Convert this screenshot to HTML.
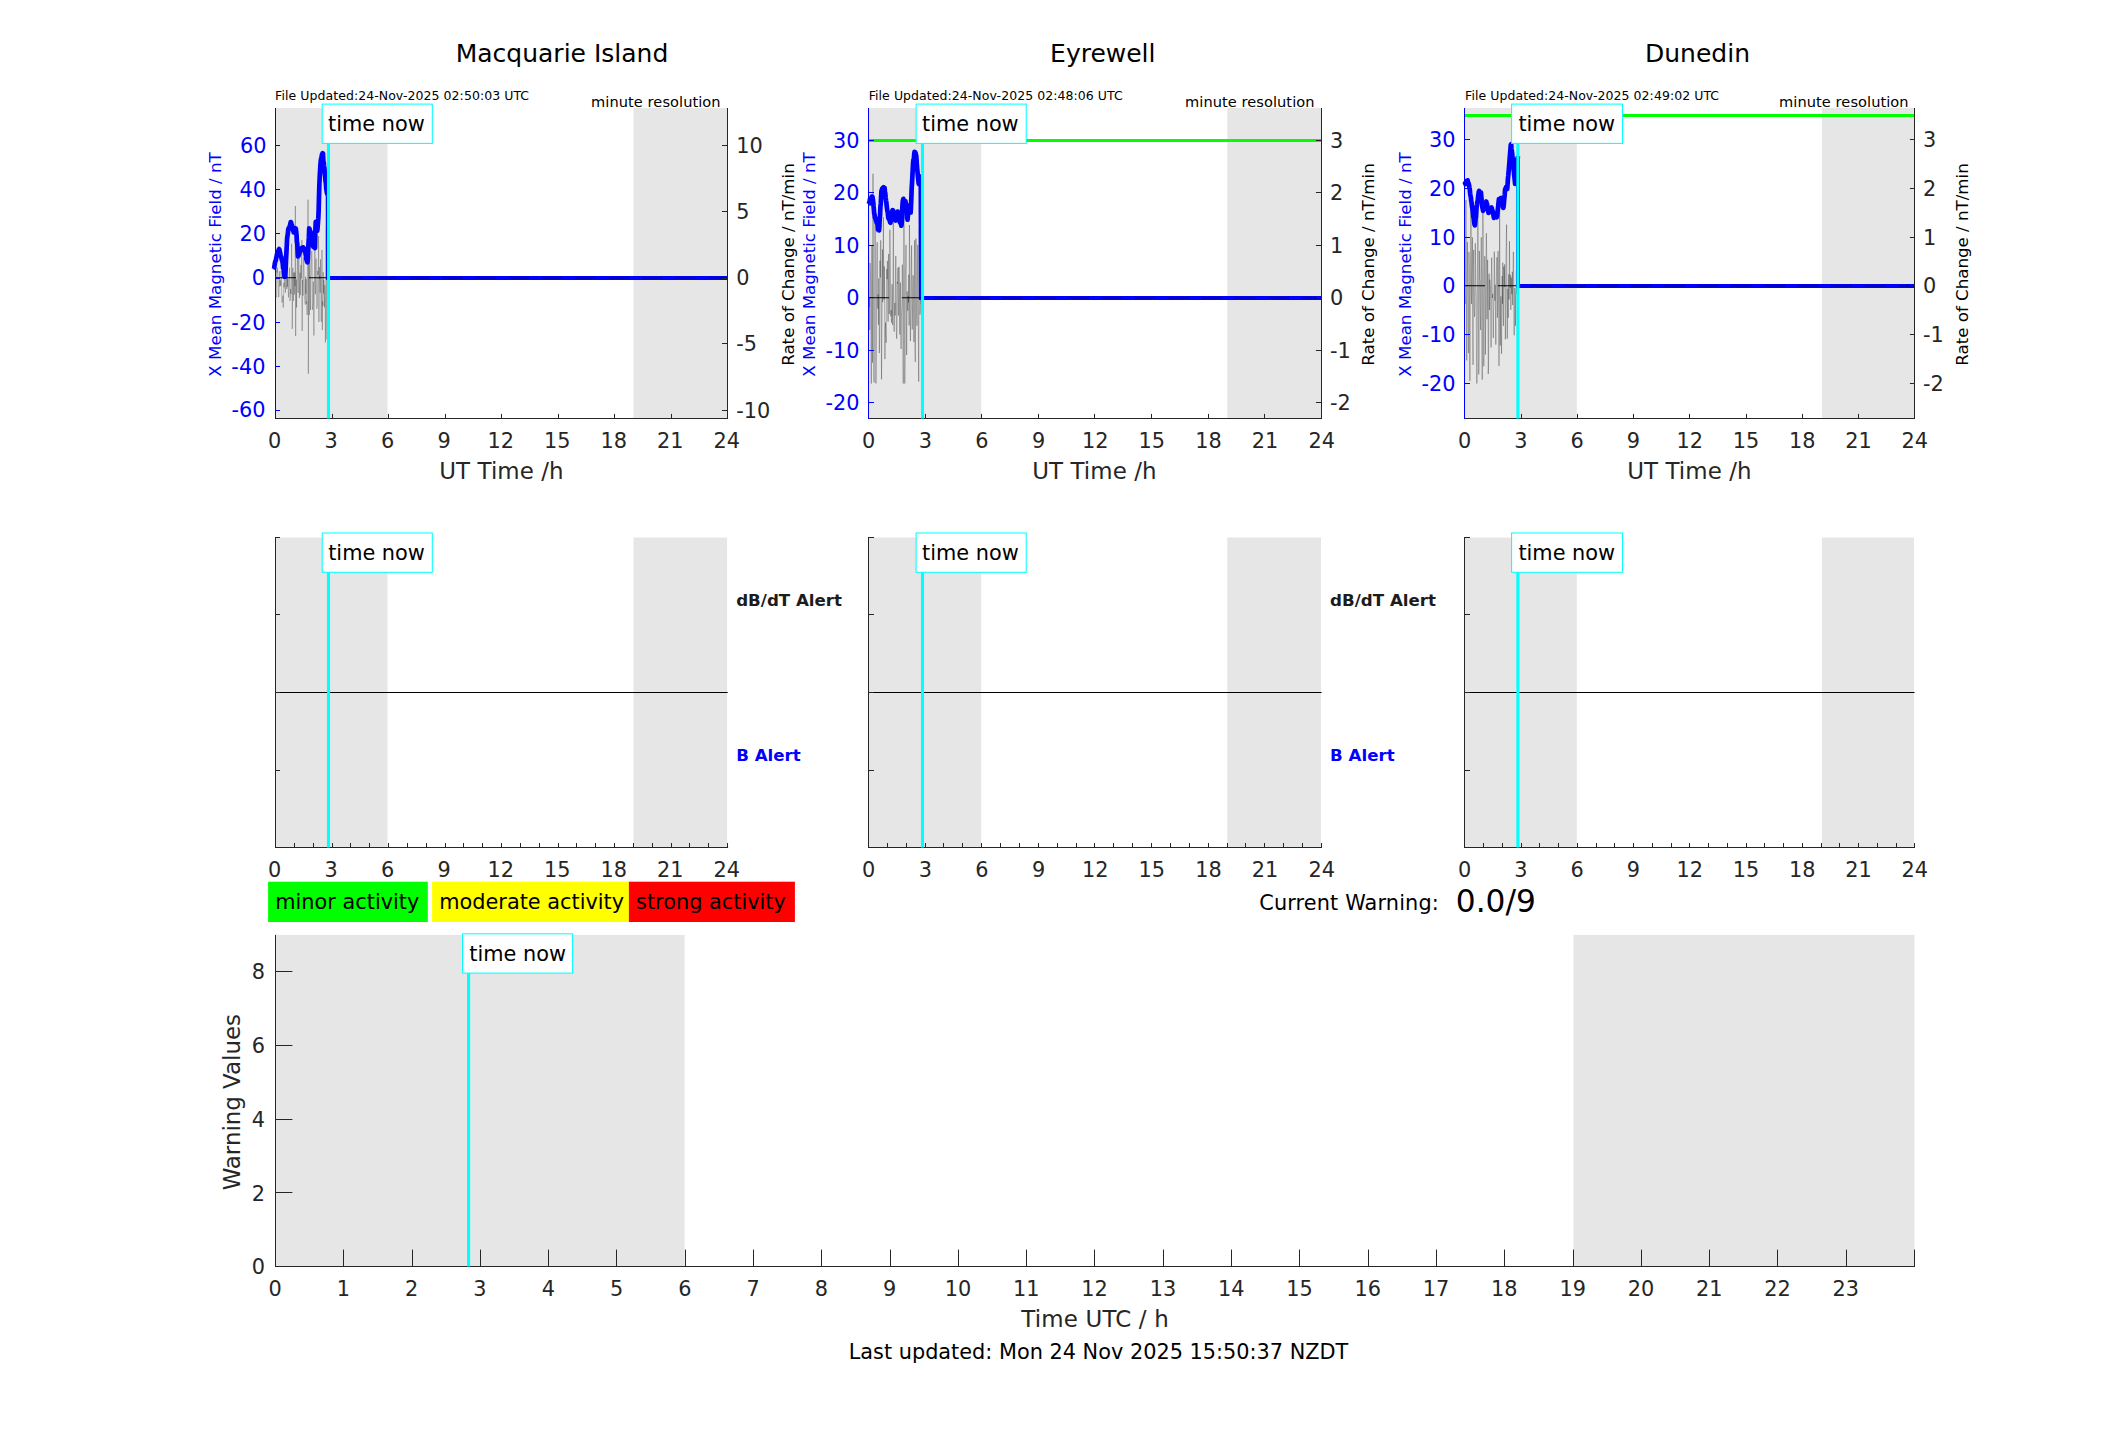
<!DOCTYPE html>
<html lang="en"><head><meta charset="utf-8"><title>Geomagnetic activity monitor</title>
<style>html,body{margin:0;padding:0;background:#fff}svg{display:block}text{font-family:'DejaVu Sans', 'Liberation Sans', sans-serif;white-space:pre}</style></head><body>
<svg width="2117" height="1437" viewBox="0 0 2117 1437">
<rect x="0" y="0" width="2117" height="1437" fill="#fff"/>
<rect x="275.5" y="108" width="112" height="310.5" fill="#e6e6e6"/>
<rect x="633.5" y="108" width="94.1" height="310.5" fill="#e6e6e6"/>
<polyline fill="none" stroke="#000" stroke-opacity="0.55" stroke-width="0.42" stroke-linejoin="round" points="275.5,268.6 275.81,293.08 276.12,297.58 276.43,276.22 276.74,270.19 277.05,272.65 277.36,267.49 277.67,277.42 277.98,282.14 278.29,292.47 278.6,297.1 278.91,296.07 279.22,271.24 279.53,276.35 279.84,286.62 280.15,280.4 280.46,282.53 280.77,285.72 281.08,270.86 281.39,275.32 281.7,295.52 282.01,302.55 282.32,298.82 282.63,298.45 282.94,295.62 283.25,307.61 283.56,296.84 283.87,282.88 284.18,287.35 284.49,274.59 284.8,277.63 285.11,288.84 285.42,292.64 285.73,277.39 286.04,271.53 286.35,269.84 286.66,289.05 286.97,283.68 287.28,276.53 287.59,286.85 287.9,278.82 288.21,289.41 288.52,297.34 288.83,288.69 289.14,274.83 289.45,267.76 289.76,277.35 290.07,301 290.38,292.22 290.69,289.04 291,294.09 291.31,279.13 291.62,243.71 291.93,267.55 292.24,328.92 292.55,299.04 292.86,267.91 293.17,295.81 293.48,300.89 293.79,272.68 294.1,280.12 294.41,294.51 294.72,272.3 295.03,286.09 295.34,206 295.65,336 295.96,293.59 296.27,279.55 296.58,307.6 296.89,278.36 297.2,269.57 297.51,249.92 297.82,282.44 298.13,292.9 298.44,275.65 298.75,251.08 299.06,272.78 299.37,297.99 299.68,284.03 299.99,272.74 300.3,295.14 300.61,272.63 300.92,265.06 301.23,278.59 301.54,259.47 301.86,240 302.17,331 302.48,279.96 302.79,286.76 303.1,295.66 303.41,272.29 303.72,257.34 304.03,268.74 304.34,285.91 304.65,289.38 304.96,302.16 305.27,304.73 305.58,276.65 305.89,293.85 306.2,279.1 306.51,303.6 306.82,301.53 307.13,314.88 307.44,271.81 307.75,236.47 308.06,199.7 308.37,373.7 308.68,259.07 308.99,264.13 309.3,314.97 309.61,256.32 309.92,240.22 310.23,278.04 310.54,309.92 310.85,275.81 311.16,275.03 311.47,257.3 311.78,250.89 312.09,258.62 312.4,309.74 312.71,306.2 313.02,304 313.33,281.63 313.64,319.1 313.95,335.56 314.26,303.47 314.57,265.73 314.88,237.54 315.19,286.59 315.5,294.21 315.81,266.21 316.12,258.54 316.43,282.13 316.74,308.81 317.05,307.69 317.36,304.14 317.67,271.02 317.98,274.92 318.29,264.48 318.6,236 318.91,322 319.22,267.07 319.53,278.71 319.84,275.98 320.15,292.87 320.46,259.32 320.77,283.28 321.08,319.53 321.39,321.85 321.7,279.53 322.01,250 322.32,330 322.63,301.28 322.94,305.92 323.25,272.16 323.56,293.45 323.87,280.04 324.18,295.49 324.49,307.51 324.8,285.1 325.11,298.72 325.42,342.52 325.73,295.74 326.04,241.8 326.35,227.12 326.66,320.04 326.97,339.47 327.28,266.9 327.59,209.5 327.9,234.63"/>
<polyline fill="none" stroke="#0000ff" stroke-width="4" stroke-linejoin="miter" points="327.7,195.5 327.9,278 727.6,278"/>
<polyline fill="none" stroke="#0000ff" stroke-width="4.7" stroke-linejoin="round" stroke-linecap="butt" points="273.7,269.4 274.06,268.78 274.42,266.06 274.79,264.31 275.15,261.55 275.51,261.46 275.87,260.14 276.24,257.81 276.6,256.58 276.96,254.2 277.32,255.61 277.69,253.39 278.05,251.49 278.41,251.1 278.77,249.6 279.14,249.09 279.5,250.13 279.86,251.68 280.22,253.35 280.59,255 280.95,256.33 281.31,257.23 281.67,259.2 282.04,260.47 282.4,261.45 282.76,263.79 283.12,268.22 283.49,268.17 283.85,271.11 284.21,273.99 284.57,276.98 284.93,276.34 285.3,276.54 285.66,268.6 286.02,260.42 286.38,253.03 286.75,246.19 287.11,238.45 287.47,235.92 287.83,233.61 288.2,229.74 288.56,228.42 288.92,228.37 289.28,227 289.65,226.96 290.01,225.23 290.37,224.07 290.73,222 291.1,222.59 291.46,223.96 291.82,224.84 292.18,227.01 292.55,226.62 292.91,230.21 293.27,230.26 293.63,232.35 294,229.63 294.36,228.27 294.72,229.1 295.08,229.51 295.44,228.98 295.81,228.55 296.17,231.39 296.53,234.87 296.89,241.61 297.26,243.71 297.62,250.84 297.98,256.44 298.34,255.41 298.71,255.45 299.07,253.74 299.43,253.35 299.79,250.94 300.16,249.77 300.52,249.88 300.88,250.14 301.24,250.54 301.61,248.15 301.97,248.32 302.33,247.82 302.69,248.91 303.06,247.29 303.42,248.48 303.78,248.03 304.14,248.95 304.51,250.25 304.87,250.61 305.23,251.04 305.59,254.2 305.96,255.54 306.32,259.66 306.68,259.64 307.04,261.56 307.4,262.38 307.77,259.4 308.13,250.67 308.49,243.27 308.85,237.68 309.22,228.27 309.58,229.18 309.94,231.2 310.3,231.21 310.67,232.09 311.03,235.06 311.39,234.81 311.75,236.44 312.12,238.76 312.48,240.81 312.84,244.13 313.2,246.64 313.57,246.86 313.93,247.16 314.29,245.93 314.65,247.11 315.02,248.02 315.38,230.43 315.74,221.81 316.1,223.71 316.47,226.38 316.83,229.54 317.19,230.83 317.55,228.09 317.91,223.37 318.28,218.41 318.64,210.79 319,196.85 319.36,184.76 319.73,176.34 320.09,170.01 320.45,164.45 320.81,160.43 321.18,158.54 321.54,157.92 321.9,154.49 322.26,154.6 322.63,153.19 322.99,153.54 323.35,161.41 323.71,162.29 324.08,166.09 324.44,168.5 324.8,173.6 325.16,177.06 325.53,181.29 325.89,183.24 326.25,189.01 326.61,191.03 326.98,193.34 327.34,192.78 327.7,195.5"/>
<line x1="275.5" y1="277.75" x2="727.6" y2="277.75" stroke="#000010" stroke-width="1.2" stroke-dasharray="20.6 12.73"/>
<line x1="275" y1="418.5" x2="728.1" y2="418.5" stroke="#262626" stroke-width="1"/>
<line x1="275.5" y1="108" x2="275.5" y2="419" stroke="#0000ff" stroke-width="1"/>
<line x1="727.5" y1="108" x2="727.5" y2="419" stroke="#262626" stroke-width="1"/>
<text x="274.6" y="448.1" font-size="20.83" fill="#262626" text-anchor="middle">0</text>
<line x1="332.5" y1="418.5" x2="332.5" y2="413.9" stroke="#262626" stroke-width="1"/>
<text x="331.11" y="448.1" font-size="20.83" fill="#262626" text-anchor="middle">3</text>
<line x1="388.5" y1="418.5" x2="388.5" y2="413.9" stroke="#262626" stroke-width="1"/>
<text x="387.62" y="448.1" font-size="20.83" fill="#262626" text-anchor="middle">6</text>
<line x1="445.5" y1="418.5" x2="445.5" y2="413.9" stroke="#262626" stroke-width="1"/>
<text x="444.14" y="448.1" font-size="20.83" fill="#262626" text-anchor="middle">9</text>
<line x1="501.5" y1="418.5" x2="501.5" y2="413.9" stroke="#262626" stroke-width="1"/>
<text x="500.65" y="448.1" font-size="20.83" fill="#262626" text-anchor="middle">12</text>
<line x1="558.5" y1="418.5" x2="558.5" y2="413.9" stroke="#262626" stroke-width="1"/>
<text x="557.16" y="448.1" font-size="20.83" fill="#262626" text-anchor="middle">15</text>
<line x1="614.5" y1="418.5" x2="614.5" y2="413.9" stroke="#262626" stroke-width="1"/>
<text x="613.68" y="448.1" font-size="20.83" fill="#262626" text-anchor="middle">18</text>
<line x1="671.5" y1="418.5" x2="671.5" y2="413.9" stroke="#262626" stroke-width="1"/>
<text x="670.19" y="448.1" font-size="20.83" fill="#262626" text-anchor="middle">21</text>
<text x="726.7" y="448.1" font-size="20.83" fill="#262626" text-anchor="middle">24</text>
<line x1="275.5" y1="145.5" x2="280" y2="145.5" stroke="#0000ff" stroke-width="1"/>
<text x="266.5" y="152.95" font-size="20.83" fill="#0000ff" text-anchor="end">60</text>
<line x1="275.5" y1="189.5" x2="280" y2="189.5" stroke="#0000ff" stroke-width="1"/>
<text x="266" y="197.15" font-size="20.83" fill="#0000ff" text-anchor="end">40</text>
<line x1="275.5" y1="233.5" x2="280" y2="233.5" stroke="#0000ff" stroke-width="1"/>
<text x="266" y="241.25" font-size="20.83" fill="#0000ff" text-anchor="end">20</text>
<line x1="275.5" y1="278.5" x2="280" y2="278.5" stroke="#0000ff" stroke-width="1"/>
<text x="265.1" y="285.45" font-size="20.83" fill="#0000ff" text-anchor="end">0</text>
<line x1="275.5" y1="322.5" x2="280" y2="322.5" stroke="#0000ff" stroke-width="1"/>
<text x="265.4" y="329.65" font-size="20.83" fill="#0000ff" text-anchor="end">-20</text>
<line x1="275.5" y1="366.5" x2="280" y2="366.5" stroke="#0000ff" stroke-width="1"/>
<text x="265.4" y="373.75" font-size="20.83" fill="#0000ff" text-anchor="end">-40</text>
<line x1="275.5" y1="410.5" x2="280" y2="410.5" stroke="#0000ff" stroke-width="1"/>
<text x="265.5" y="417.25" font-size="20.83" fill="#0000ff" text-anchor="end">-60</text>
<line x1="727.6" y1="145.5" x2="722" y2="145.5" stroke="#262626" stroke-width="1"/>
<text x="736.2" y="152.95" font-size="20.83" fill="#262626">10</text>
<line x1="727.6" y1="211.5" x2="722" y2="211.5" stroke="#262626" stroke-width="1"/>
<text x="736.2" y="219.25" font-size="20.83" fill="#262626">5</text>
<line x1="727.6" y1="278.5" x2="722" y2="278.5" stroke="#262626" stroke-width="1"/>
<text x="736.2" y="285.45" font-size="20.83" fill="#262626">0</text>
<line x1="727.6" y1="343.5" x2="722" y2="343.5" stroke="#262626" stroke-width="1"/>
<text x="736.2" y="351.05" font-size="20.83" fill="#262626">-5</text>
<line x1="727.6" y1="410.5" x2="722" y2="410.5" stroke="#262626" stroke-width="1"/>
<text x="736.2" y="417.95" font-size="20.83" fill="#262626">-10</text>
<text x="501.4" y="479.3" font-size="22.92" fill="#262626" text-anchor="middle" textLength="124.4">UT Time /h</text>
<text x="221.4" y="264.5" font-size="16.67" fill="#0000ff" text-anchor="middle" transform="rotate(-90 221.4 264.5)">X Mean Magnetic Field / nT</text>
<text x="794.2" y="264.5" font-size="16.67" fill="#000" text-anchor="middle" transform="rotate(-90 794.2 264.5)">Rate of Change / nT/min</text>
<text x="455.7" y="61.8" font-size="25" fill="#000">Macquarie Island</text>
<text x="275.1" y="99.95" font-size="12.5" fill="#000" textLength="254">File Updated:24-Nov-2025 02:50:03 UTC</text>
<text x="720.6" y="106.6" font-size="14.58" fill="#000" text-anchor="end" textLength="129.5">minute resolution</text>
<line x1="328.5" y1="143.4" x2="328.5" y2="418.5" stroke="#00ffff" stroke-width="3.1"/>
<rect x="322.2" y="104.1" width="110.1" height="39.3" fill="#fff" stroke="#00ffff" stroke-width="1.04"/>
<text x="328.1" y="131" font-size="20.83" fill="#000">time now</text>
<rect x="868.5" y="108" width="112.7" height="310.5" fill="#e6e6e6"/>
<rect x="1227.3" y="108" width="94.2" height="310.5" fill="#e6e6e6"/>
<line x1="868.5" y1="140.5" x2="1321.5" y2="140.5" stroke="#00ff00" stroke-width="3"/>
<polyline fill="none" stroke="#000" stroke-opacity="0.62" stroke-width="0.42" stroke-linejoin="round" points="868.5,227.17 868.81,285.42 869.12,307.24 869.43,297.37 869.74,329.95 870.05,262.94 870.36,270.71 870.67,285.98 870.98,343.7 871.29,383.5 871.6,311.9 871.91,245.99 872.22,308.01 872.53,362.71 872.84,174.27 873.15,173.69 873.46,285.06 873.77,369.96 874.08,382.45 874.39,348 874.7,251.59 875.01,202.48 875.32,212.88 875.63,301.11 875.94,383.5 876.25,348.68 876.56,293.23 876.87,261.65 877.18,242.28 877.49,297.11 877.8,308.73 878.11,294.22 878.42,324.89 878.73,278.31 879.04,299.86 879.35,353.07 879.66,336.77 879.97,260.71 880.28,277.53 880.59,240.36 880.9,241.31 881.21,294.8 881.52,379.32 881.83,335.64 882.14,303.21 882.45,249.38 882.76,302.21 883.07,282.47 883.38,217.2 883.69,272.7 884,299.66 884.31,266.34 884.62,297.58 884.93,359.14 885.24,327.74 885.55,322.64 885.86,334.14 886.17,342.78 886.48,289.87 886.79,269.09 887.1,279.11 887.41,260.89 887.72,308.92 888.03,321.68 888.34,315.26 888.65,254.04 888.96,293.52 889.27,314.01 889.58,298.95 889.89,229.78 890.2,265.8 890.51,287.64 890.82,316.19 891.13,310.06 891.44,322.64 891.75,315.09 892.06,284.28 892.37,310.62 892.68,325.14 892.99,297.11 893.3,212.12 893.61,271.54 893.92,328.34 894.23,331.7 894.54,315.33 894.86,302.86 895.17,315.56 895.48,285.75 895.79,255.95 896.1,287.13 896.41,334 896.72,338.78 897.03,326.37 897.34,282.09 897.65,283.58 897.96,267.83 898.27,312.76 898.58,315.57 898.89,266.7 899.2,269.98 899.51,295.81 899.82,334.47 900.13,297.78 900.44,282.56 900.75,315.36 901.06,348.9 901.37,318.33 901.68,309.53 901.99,306.24 902.3,264.59 902.61,279.72 902.92,345.45 903.23,383.5 903.54,314.83 903.85,207.4 904.16,234.91 904.47,321.51 904.78,383.5 905.09,359.34 905.4,270.48 905.71,268.07 906.02,244.92 906.33,295.64 906.64,355.04 906.95,320.06 907.26,291.45 907.57,310.66 907.88,310.13 908.19,296.13 908.5,302.62 908.81,274.7 909.12,325.47 909.43,225.05 909.74,257.87 910.05,303.69 910.36,340.99 910.67,325.1 910.98,308.2 911.29,268.25 911.6,245.52 911.91,291.6 912.22,329.45 912.53,312.19 912.84,287.33 913.15,275.22 913.46,303.19 913.77,341.79 914.08,341.95 914.39,260.24 914.7,240.23 915.01,350.04 915.32,361.86 915.63,312.39 915.94,238.47 916.25,273.9 916.56,318.67 916.87,325.69 917.18,323.1 917.49,262.91 917.8,244.94 918.11,305.57 918.42,343.62 918.73,381.65 919.04,277.7 919.35,229.34 919.66,265.79 919.97,314.7 920.28,311.95 920.59,292.38 920.9,303.8"/>
<polyline fill="none" stroke="#0000ff" stroke-width="4" stroke-linejoin="miter" points="920.4,174.3 920.9,298 1321.5,298"/>
<polyline fill="none" stroke="#0000ff" stroke-width="4.7" stroke-linejoin="round" stroke-linecap="butt" points="868.6,204 868.95,203.81 869.3,201.84 869.64,202.19 869.99,198.77 870.34,199.61 870.69,200.92 871.03,198.51 871.38,198.54 871.73,196.5 872.08,197.89 872.42,196.75 872.77,198.58 873.12,201.08 873.47,205.72 873.81,208.36 874.16,213.43 874.51,214.17 874.86,217.28 875.21,218.25 875.55,218.22 875.9,220.62 876.25,220.15 876.6,222.7 876.94,221.77 877.29,222.93 877.64,224.92 877.99,229.5 878.33,226.42 878.68,228.97 879.03,230.4 879.38,226.83 879.72,218.69 880.07,215.77 880.42,206.39 880.77,203.97 881.12,196.73 881.46,190.53 881.81,191.13 882.16,188.51 882.51,189.58 882.85,188.04 883.2,187.62 883.55,187.21 883.9,187.89 884.24,189.15 884.59,187.71 884.94,192.24 885.29,193.29 885.63,197.45 885.98,200.34 886.33,202.35 886.68,205.95 887.03,208.32 887.37,211.07 887.72,211.94 888.07,216.09 888.42,218.52 888.76,216.21 889.11,218.85 889.46,219.94 889.81,221.16 890.15,222.36 890.5,222.76 890.85,219.68 891.2,218.13 891.54,215.36 891.89,212.84 892.24,211.51 892.59,210.24 892.94,210.34 893.28,211.3 893.63,212.46 893.98,215.02 894.33,215.44 894.67,216.88 895.02,220.04 895.37,218.91 895.72,220.5 896.06,219.05 896.41,214.71 896.76,214.26 897.11,213 897.46,211.68 897.8,211.7 898.15,213.93 898.5,215.81 898.85,217.64 899.19,218.33 899.54,221.02 899.89,222.36 900.24,221.5 900.58,220.21 900.93,224.1 901.28,225.69 901.63,224.29 901.97,218.76 902.32,208.09 902.67,202.03 903.02,199.95 903.37,198.83 903.71,200.07 904.06,200.63 904.41,201.73 904.76,202.64 905.1,201.94 905.45,201.1 905.8,204.12 906.15,207 906.49,211.45 906.84,212.84 907.19,218.15 907.54,219.73 907.88,215.43 908.23,211.49 908.58,206.15 908.93,206.04 909.28,205.39 909.62,209.07 909.97,209.19 910.32,211.23 910.67,212.59 911.01,205.37 911.36,197.41 911.71,187.58 912.06,182.33 912.4,175.83 912.75,169.32 913.1,162.55 913.45,159.62 913.79,159.87 914.14,155.08 914.49,151.96 914.84,152.81 915.19,152.27 915.53,152.89 915.88,154.87 916.23,155.59 916.58,160.66 916.92,165.79 917.27,169.61 917.62,173.18 917.97,177.18 918.31,179.99 918.66,183.45 919.01,184.12 919.36,181.32 919.7,179.89 920.05,175.66 920.4,174.3"/>
<line x1="868.5" y1="297.75" x2="1321.5" y2="297.75" stroke="#000010" stroke-width="1.2" stroke-dasharray="20.6 12.73"/>
<line x1="868" y1="418.5" x2="1322" y2="418.5" stroke="#262626" stroke-width="1"/>
<line x1="868.5" y1="108" x2="868.5" y2="419" stroke="#0000ff" stroke-width="1"/>
<line x1="1321.5" y1="108" x2="1321.5" y2="419" stroke="#262626" stroke-width="1"/>
<text x="868.7" y="448.1" font-size="20.83" fill="#262626" text-anchor="middle">0</text>
<line x1="925.5" y1="418.5" x2="925.5" y2="413.9" stroke="#262626" stroke-width="1"/>
<text x="925.33" y="448.1" font-size="20.83" fill="#262626" text-anchor="middle">3</text>
<line x1="981.5" y1="418.5" x2="981.5" y2="413.9" stroke="#262626" stroke-width="1"/>
<text x="981.95" y="448.1" font-size="20.83" fill="#262626" text-anchor="middle">6</text>
<line x1="1038.5" y1="418.5" x2="1038.5" y2="413.9" stroke="#262626" stroke-width="1"/>
<text x="1038.58" y="448.1" font-size="20.83" fill="#262626" text-anchor="middle">9</text>
<line x1="1094.5" y1="418.5" x2="1094.5" y2="413.9" stroke="#262626" stroke-width="1"/>
<text x="1095.2" y="448.1" font-size="20.83" fill="#262626" text-anchor="middle">12</text>
<line x1="1151.5" y1="418.5" x2="1151.5" y2="413.9" stroke="#262626" stroke-width="1"/>
<text x="1151.83" y="448.1" font-size="20.83" fill="#262626" text-anchor="middle">15</text>
<line x1="1208.5" y1="418.5" x2="1208.5" y2="413.9" stroke="#262626" stroke-width="1"/>
<text x="1208.45" y="448.1" font-size="20.83" fill="#262626" text-anchor="middle">18</text>
<line x1="1264.5" y1="418.5" x2="1264.5" y2="413.9" stroke="#262626" stroke-width="1"/>
<text x="1265.08" y="448.1" font-size="20.83" fill="#262626" text-anchor="middle">21</text>
<text x="1321.7" y="448.1" font-size="20.83" fill="#262626" text-anchor="middle">24</text>
<line x1="868.5" y1="140.5" x2="874" y2="140.5" stroke="#0000ff" stroke-width="1"/>
<text x="859.5" y="147.95" font-size="20.83" fill="#0000ff" text-anchor="end">30</text>
<line x1="868.5" y1="192.5" x2="874" y2="192.5" stroke="#0000ff" stroke-width="1"/>
<text x="859.5" y="200.35" font-size="20.83" fill="#0000ff" text-anchor="end">20</text>
<line x1="868.5" y1="245.5" x2="874" y2="245.5" stroke="#0000ff" stroke-width="1"/>
<text x="859.5" y="252.75" font-size="20.83" fill="#0000ff" text-anchor="end">10</text>
<line x1="868.5" y1="297.5" x2="874" y2="297.5" stroke="#0000ff" stroke-width="1"/>
<text x="859.5" y="305.15" font-size="20.83" fill="#0000ff" text-anchor="end">0</text>
<line x1="868.5" y1="350.5" x2="874" y2="350.5" stroke="#0000ff" stroke-width="1"/>
<text x="859.5" y="357.55" font-size="20.83" fill="#0000ff" text-anchor="end">-10</text>
<line x1="868.5" y1="402.5" x2="874" y2="402.5" stroke="#0000ff" stroke-width="1"/>
<text x="859.5" y="409.95" font-size="20.83" fill="#0000ff" text-anchor="end">-20</text>
<line x1="1321.5" y1="140.5" x2="1315.9" y2="140.5" stroke="#262626" stroke-width="1"/>
<text x="1330.1" y="147.95" font-size="20.83" fill="#262626">3</text>
<line x1="1321.5" y1="192.5" x2="1315.9" y2="192.5" stroke="#262626" stroke-width="1"/>
<text x="1330.1" y="200.35" font-size="20.83" fill="#262626">2</text>
<line x1="1321.5" y1="245.5" x2="1315.9" y2="245.5" stroke="#262626" stroke-width="1"/>
<text x="1330.1" y="252.75" font-size="20.83" fill="#262626">1</text>
<line x1="1321.5" y1="297.5" x2="1315.9" y2="297.5" stroke="#262626" stroke-width="1"/>
<text x="1330.1" y="305.15" font-size="20.83" fill="#262626">0</text>
<line x1="1321.5" y1="350.5" x2="1315.9" y2="350.5" stroke="#262626" stroke-width="1"/>
<text x="1330.1" y="357.55" font-size="20.83" fill="#262626">-1</text>
<line x1="1321.5" y1="402.5" x2="1315.9" y2="402.5" stroke="#262626" stroke-width="1"/>
<text x="1330.1" y="409.95" font-size="20.83" fill="#262626">-2</text>
<text x="1094.35" y="479.3" font-size="22.92" fill="#262626" text-anchor="middle" textLength="124.4">UT Time /h</text>
<text x="815.1" y="264.5" font-size="16.67" fill="#0000ff" text-anchor="middle" transform="rotate(-90 815.1 264.5)">X Mean Magnetic Field / nT</text>
<text x="1373.6" y="264.5" font-size="16.67" fill="#000" text-anchor="middle" transform="rotate(-90 1373.6 264.5)">Rate of Change / nT/min</text>
<text x="1050.1" y="61.8" font-size="25" fill="#000">Eyrewell</text>
<text x="868.7" y="99.95" font-size="12.5" fill="#000" textLength="254">File Updated:24-Nov-2025 02:48:06 UTC</text>
<text x="1314.5" y="106.6" font-size="14.58" fill="#000" text-anchor="end" textLength="129.5">minute resolution</text>
<line x1="922.5" y1="143.4" x2="922.5" y2="418.5" stroke="#00ffff" stroke-width="3.1"/>
<rect x="916.1" y="104.1" width="110.1" height="39.3" fill="#fff" stroke="#00ffff" stroke-width="1.04"/>
<text x="922" y="131" font-size="20.83" fill="#000">time now</text>
<rect x="1464.5" y="108" width="112.3" height="310.5" fill="#e6e6e6"/>
<rect x="1821.9" y="108" width="92.6" height="310.5" fill="#e6e6e6"/>
<line x1="1464.5" y1="115.5" x2="1914.5" y2="115.5" stroke="#00ff00" stroke-width="3"/>
<polyline fill="none" stroke="#000" stroke-opacity="0.62" stroke-width="0.42" stroke-linejoin="round" points="1464.5,254.3 1464.82,291.59 1465.13,304.1 1465.45,270.52 1465.77,201.81 1466.08,200 1466.4,282.2 1466.72,360.46 1467.03,303.26 1467.35,242.05 1467.67,280.07 1467.98,287.74 1468.3,348.49 1468.62,353.12 1468.93,251.98 1469.25,267.06 1469.57,303.17 1469.88,381.09 1470.2,307.44 1470.51,281.64 1470.83,204.78 1471.15,229.44 1471.46,303.94 1471.78,276.42 1472.1,255.7 1472.41,237.42 1472.73,333.34 1473.05,364.87 1473.36,267.22 1473.68,249.97 1474,290.67 1474.31,309.55 1474.63,316.76 1474.95,303.88 1475.26,243.18 1475.58,263.27 1475.9,287.91 1476.21,298.49 1476.53,357.38 1476.85,383.5 1477.16,365.92 1477.48,273.93 1477.8,210.42 1478.11,237.98 1478.43,307.2 1478.75,374.46 1479.06,357.88 1479.38,250.91 1479.7,279.59 1480.01,280.32 1480.33,312.22 1480.64,330.02 1480.96,266.37 1481.28,237.36 1481.59,278.11 1481.91,341.34 1482.23,379.69 1482.54,295.91 1482.86,209.53 1483.18,235.51 1483.49,313.55 1483.81,366.31 1484.13,323.38 1484.44,266.93 1484.76,256.17 1485.08,267.39 1485.39,354.55 1485.71,318.28 1486.03,264.62 1486.34,233.11 1486.66,251.43 1486.98,319.21 1487.29,305.93 1487.61,259.79 1487.93,283.8 1488.24,373.98 1488.56,365.51 1488.88,284.22 1489.19,273.65 1489.51,309.98 1489.83,279.65 1490.14,285.1 1490.46,288.49 1490.78,299.72 1491.09,347.37 1491.41,270.97 1491.72,257.63 1492.04,281.45 1492.36,298.02 1492.67,293.83 1492.99,319.35 1493.31,337.96 1493.62,311.9 1493.94,297.52 1494.26,251.61 1494.57,263.85 1494.89,300.68 1495.21,284.68 1495.52,320.56 1495.84,344.68 1496.16,296.78 1496.47,274.41 1496.79,257.31 1497.11,257.75 1497.42,317.76 1497.74,297.75 1498.06,251.04 1498.37,276.94 1498.69,314.19 1499.01,366.01 1499.32,308.27 1499.64,201.38 1499.96,282.58 1500.27,345.59 1500.59,310.63 1500.91,296.31 1501.22,332.66 1501.54,353.66 1501.86,302.2 1502.17,275.84 1502.49,303.9 1502.8,262.52 1503.12,315.99 1503.44,325.86 1503.75,266.54 1504.07,271.4 1504.39,287.01 1504.7,264.39 1505.02,301.87 1505.34,339.38 1505.65,324.81 1505.97,259.44 1506.29,241.52 1506.6,224.61 1506.92,297.42 1507.24,338.76 1507.55,321.38 1507.87,288.8 1508.19,317.88 1508.5,277.47 1508.82,274.23 1509.14,299.54 1509.45,241.18 1509.77,276.98 1510.09,287.85 1510.4,274.94 1510.72,309.87 1511.04,307.26 1511.35,277.61 1511.67,294.13 1511.99,293.4 1512.3,271.84 1512.62,304.95 1512.93,277.53 1513.25,251.8 1513.57,252.03 1513.88,321.03 1514.2,335.26 1514.52,318.7 1514.83,287.99 1515.15,299.19 1515.47,325.83 1515.78,294.24 1516.1,292.53 1516.42,270.13 1516.73,293.98 1517.05,283.5 1517.37,200 1517.68,230.94 1518,266.47"/>
<polyline fill="none" stroke="#0000ff" stroke-width="4" stroke-linejoin="miter" points="1518,156.4 1518,286 1914.5,286"/>
<polyline fill="none" stroke="#0000ff" stroke-width="4.7" stroke-linejoin="round" stroke-linecap="butt" points="1464.4,184.6 1464.76,184.4 1465.12,183.07 1465.48,184.12 1465.84,182.28 1466.2,181.17 1466.56,182.42 1466.92,181.47 1467.28,181.22 1467.64,180.31 1468,182.44 1468.36,182.93 1468.72,183.81 1469.08,185.34 1469.44,187.62 1469.8,189.52 1470.16,193.52 1470.52,195.66 1470.88,197.36 1471.23,200.96 1471.59,202.83 1471.95,206.24 1472.31,208.07 1472.67,210.44 1473.03,213.44 1473.39,217.41 1473.75,217.8 1474.11,221.77 1474.47,224.24 1474.83,225.36 1475.19,222.37 1475.55,218.63 1475.91,216.91 1476.27,211.12 1476.63,207.15 1476.99,205.11 1477.35,201.9 1477.71,201.36 1478.07,196.83 1478.43,194.78 1478.79,191.77 1479.15,191 1479.51,192.5 1479.87,192.99 1480.23,192.73 1480.59,192.82 1480.95,192.45 1481.31,196.62 1481.67,200.26 1482.03,203.35 1482.39,207.48 1482.75,208.73 1483.11,210.87 1483.47,209.71 1483.83,209.38 1484.19,208.99 1484.54,208.64 1484.9,206.26 1485.26,203.97 1485.62,205.42 1485.98,204.63 1486.34,201.47 1486.7,205.18 1487.06,203.9 1487.42,208.18 1487.78,207.56 1488.14,210.34 1488.5,212.96 1488.86,211.67 1489.22,212.46 1489.58,209.76 1489.94,210.35 1490.3,209.83 1490.66,208.14 1491.02,207.74 1491.38,207.54 1491.74,207.99 1492.1,209.71 1492.46,211 1492.82,211.46 1493.18,213.87 1493.54,215.66 1493.9,217.99 1494.26,215.63 1494.62,216.06 1494.98,214.38 1495.34,217.19 1495.7,216.4 1496.06,217.27 1496.42,217.4 1496.78,217.38 1497.14,215.68 1497.5,212.54 1497.86,209.25 1498.21,206.37 1498.57,202.21 1498.93,199.08 1499.29,200.36 1499.65,199.67 1500.01,200.04 1500.37,198.51 1500.73,198.67 1501.09,197.82 1501.45,199.75 1501.81,201.15 1502.17,202.51 1502.53,205.34 1502.89,206.06 1503.25,207.87 1503.61,206.42 1503.97,202.67 1504.33,198.16 1504.69,194.95 1505.05,189.54 1505.41,189.2 1505.77,187.78 1506.13,186.9 1506.49,187.88 1506.85,189.13 1507.21,189.01 1507.57,184.59 1507.93,178.47 1508.29,175.43 1508.65,171.29 1509.01,167.31 1509.37,162.79 1509.73,157.82 1510.09,153.49 1510.45,149.31 1510.81,144.79 1511.17,144.22 1511.52,149.01 1511.88,151.34 1512.24,154.14 1512.6,158.39 1512.96,162.29 1513.32,166.22 1513.68,169.19 1514.04,173.3 1514.4,177.12 1514.76,180.17 1515.12,183.98 1515.48,177.07 1515.84,172.87 1516.2,166.54 1516.56,160.68 1516.92,160.93 1517.28,158.89 1517.64,158.42 1518,156.4"/>
<line x1="1464.5" y1="285.75" x2="1914.5" y2="285.75" stroke="#000010" stroke-width="1.2" stroke-dasharray="20.6 12.73"/>
<line x1="1464" y1="418.5" x2="1915" y2="418.5" stroke="#262626" stroke-width="1"/>
<line x1="1464.5" y1="108" x2="1464.5" y2="419" stroke="#0000ff" stroke-width="1"/>
<line x1="1914.5" y1="108" x2="1914.5" y2="419" stroke="#262626" stroke-width="1"/>
<text x="1464.7" y="448.1" font-size="20.83" fill="#262626" text-anchor="middle">0</text>
<line x1="1521.5" y1="418.5" x2="1521.5" y2="413.9" stroke="#262626" stroke-width="1"/>
<text x="1520.95" y="448.1" font-size="20.83" fill="#262626" text-anchor="middle">3</text>
<line x1="1577.5" y1="418.5" x2="1577.5" y2="413.9" stroke="#262626" stroke-width="1"/>
<text x="1577.2" y="448.1" font-size="20.83" fill="#262626" text-anchor="middle">6</text>
<line x1="1633.5" y1="418.5" x2="1633.5" y2="413.9" stroke="#262626" stroke-width="1"/>
<text x="1633.45" y="448.1" font-size="20.83" fill="#262626" text-anchor="middle">9</text>
<line x1="1689.5" y1="418.5" x2="1689.5" y2="413.9" stroke="#262626" stroke-width="1"/>
<text x="1689.7" y="448.1" font-size="20.83" fill="#262626" text-anchor="middle">12</text>
<line x1="1746.5" y1="418.5" x2="1746.5" y2="413.9" stroke="#262626" stroke-width="1"/>
<text x="1745.95" y="448.1" font-size="20.83" fill="#262626" text-anchor="middle">15</text>
<line x1="1802.5" y1="418.5" x2="1802.5" y2="413.9" stroke="#262626" stroke-width="1"/>
<text x="1802.2" y="448.1" font-size="20.83" fill="#262626" text-anchor="middle">18</text>
<line x1="1858.5" y1="418.5" x2="1858.5" y2="413.9" stroke="#262626" stroke-width="1"/>
<text x="1858.45" y="448.1" font-size="20.83" fill="#262626" text-anchor="middle">21</text>
<text x="1914.7" y="448.1" font-size="20.83" fill="#262626" text-anchor="middle">24</text>
<line x1="1464.5" y1="139.5" x2="1470" y2="139.5" stroke="#0000ff" stroke-width="1"/>
<text x="1455.5" y="146.95" font-size="20.83" fill="#0000ff" text-anchor="end">30</text>
<line x1="1464.5" y1="188.5" x2="1470" y2="188.5" stroke="#0000ff" stroke-width="1"/>
<text x="1455.5" y="195.75" font-size="20.83" fill="#0000ff" text-anchor="end">20</text>
<line x1="1464.5" y1="237.5" x2="1470" y2="237.5" stroke="#0000ff" stroke-width="1"/>
<text x="1455.5" y="244.55" font-size="20.83" fill="#0000ff" text-anchor="end">10</text>
<line x1="1464.5" y1="285.5" x2="1470" y2="285.5" stroke="#0000ff" stroke-width="1"/>
<text x="1455.5" y="293.35" font-size="20.83" fill="#0000ff" text-anchor="end">0</text>
<line x1="1464.5" y1="334.5" x2="1470" y2="334.5" stroke="#0000ff" stroke-width="1"/>
<text x="1455.5" y="342.15" font-size="20.83" fill="#0000ff" text-anchor="end">-10</text>
<line x1="1464.5" y1="383.5" x2="1470" y2="383.5" stroke="#0000ff" stroke-width="1"/>
<text x="1455.5" y="390.95" font-size="20.83" fill="#0000ff" text-anchor="end">-20</text>
<line x1="1914.5" y1="139.5" x2="1909.9" y2="139.5" stroke="#262626" stroke-width="1"/>
<text x="1923.1" y="146.95" font-size="20.83" fill="#262626">3</text>
<line x1="1914.5" y1="188.5" x2="1909.9" y2="188.5" stroke="#262626" stroke-width="1"/>
<text x="1923.1" y="195.75" font-size="20.83" fill="#262626">2</text>
<line x1="1914.5" y1="237.5" x2="1909.9" y2="237.5" stroke="#262626" stroke-width="1"/>
<text x="1923.1" y="244.55" font-size="20.83" fill="#262626">1</text>
<line x1="1914.5" y1="285.5" x2="1909.9" y2="285.5" stroke="#262626" stroke-width="1"/>
<text x="1923.1" y="293.35" font-size="20.83" fill="#262626">0</text>
<line x1="1914.5" y1="334.5" x2="1909.9" y2="334.5" stroke="#262626" stroke-width="1"/>
<text x="1923.1" y="342.15" font-size="20.83" fill="#262626">-1</text>
<line x1="1914.5" y1="383.5" x2="1909.9" y2="383.5" stroke="#262626" stroke-width="1"/>
<text x="1923.1" y="390.95" font-size="20.83" fill="#262626">-2</text>
<text x="1689.35" y="479.3" font-size="22.92" fill="#262626" text-anchor="middle" textLength="124.4">UT Time /h</text>
<text x="1411.1" y="264.5" font-size="16.67" fill="#0000ff" text-anchor="middle" transform="rotate(-90 1411.1 264.5)">X Mean Magnetic Field / nT</text>
<text x="1967.5" y="264.5" font-size="16.67" fill="#000" text-anchor="middle" transform="rotate(-90 1967.5 264.5)">Rate of Change / nT/min</text>
<text x="1645" y="61.8" font-size="25" fill="#000">Dunedin</text>
<text x="1465.1" y="99.95" font-size="12.5" fill="#000" textLength="254">File Updated:24-Nov-2025 02:49:02 UTC</text>
<text x="1908.6" y="106.6" font-size="14.58" fill="#000" text-anchor="end" textLength="129.5">minute resolution</text>
<line x1="1517.9" y1="143.4" x2="1517.9" y2="418.5" stroke="#00ffff" stroke-width="3.1"/>
<rect x="1511.6" y="104.1" width="110.9" height="39.3" fill="#fff" stroke="#00ffff" stroke-width="1.04"/>
<text x="1518.4" y="131" font-size="20.83" fill="#000">time now</text>
<rect x="275.5" y="537.5" width="112" height="310" fill="#e6e6e6"/>
<rect x="633.5" y="537.5" width="93.6" height="310" fill="#e6e6e6"/>
<line x1="275.5" y1="692.5" x2="727.6" y2="692.5" stroke="#000" stroke-width="1"/>
<line x1="275.5" y1="537" x2="275.5" y2="848" stroke="#262626" stroke-width="1"/>
<line x1="275" y1="847.5" x2="728.1" y2="847.5" stroke="#262626" stroke-width="1"/>
<line x1="275.5" y1="847.5" x2="275.5" y2="843" stroke="#262626" stroke-width="1"/>
<text x="274.6" y="877" font-size="20.83" fill="#262626" text-anchor="middle">0</text>
<line x1="294.5" y1="847.5" x2="294.5" y2="843" stroke="#262626" stroke-width="1"/>
<line x1="313.5" y1="847.5" x2="313.5" y2="843" stroke="#262626" stroke-width="1"/>
<line x1="332.5" y1="847.5" x2="332.5" y2="843" stroke="#262626" stroke-width="1"/>
<text x="331.11" y="877" font-size="20.83" fill="#262626" text-anchor="middle">3</text>
<line x1="350.5" y1="847.5" x2="350.5" y2="843" stroke="#262626" stroke-width="1"/>
<line x1="369.5" y1="847.5" x2="369.5" y2="843" stroke="#262626" stroke-width="1"/>
<line x1="388.5" y1="847.5" x2="388.5" y2="843" stroke="#262626" stroke-width="1"/>
<text x="387.63" y="877" font-size="20.83" fill="#262626" text-anchor="middle">6</text>
<line x1="407.5" y1="847.5" x2="407.5" y2="843" stroke="#262626" stroke-width="1"/>
<line x1="426.5" y1="847.5" x2="426.5" y2="843" stroke="#262626" stroke-width="1"/>
<line x1="445.5" y1="847.5" x2="445.5" y2="843" stroke="#262626" stroke-width="1"/>
<text x="444.14" y="877" font-size="20.83" fill="#262626" text-anchor="middle">9</text>
<line x1="463.5" y1="847.5" x2="463.5" y2="843" stroke="#262626" stroke-width="1"/>
<line x1="482.5" y1="847.5" x2="482.5" y2="843" stroke="#262626" stroke-width="1"/>
<line x1="501.5" y1="847.5" x2="501.5" y2="843" stroke="#262626" stroke-width="1"/>
<text x="500.65" y="877" font-size="20.83" fill="#262626" text-anchor="middle">12</text>
<line x1="520.5" y1="847.5" x2="520.5" y2="843" stroke="#262626" stroke-width="1"/>
<line x1="539.5" y1="847.5" x2="539.5" y2="843" stroke="#262626" stroke-width="1"/>
<line x1="558.5" y1="847.5" x2="558.5" y2="843" stroke="#262626" stroke-width="1"/>
<text x="557.16" y="877" font-size="20.83" fill="#262626" text-anchor="middle">15</text>
<line x1="576.5" y1="847.5" x2="576.5" y2="843" stroke="#262626" stroke-width="1"/>
<line x1="595.5" y1="847.5" x2="595.5" y2="843" stroke="#262626" stroke-width="1"/>
<line x1="614.5" y1="847.5" x2="614.5" y2="843" stroke="#262626" stroke-width="1"/>
<text x="613.68" y="877" font-size="20.83" fill="#262626" text-anchor="middle">18</text>
<line x1="633.5" y1="847.5" x2="633.5" y2="843" stroke="#262626" stroke-width="1"/>
<line x1="652.5" y1="847.5" x2="652.5" y2="843" stroke="#262626" stroke-width="1"/>
<line x1="671.5" y1="847.5" x2="671.5" y2="843" stroke="#262626" stroke-width="1"/>
<text x="670.19" y="877" font-size="20.83" fill="#262626" text-anchor="middle">21</text>
<line x1="689.5" y1="847.5" x2="689.5" y2="843" stroke="#262626" stroke-width="1"/>
<line x1="708.5" y1="847.5" x2="708.5" y2="843" stroke="#262626" stroke-width="1"/>
<line x1="727.5" y1="847.5" x2="727.5" y2="843" stroke="#262626" stroke-width="1"/>
<text x="726.7" y="877" font-size="20.83" fill="#262626" text-anchor="middle">24</text>
<line x1="275.5" y1="537.5" x2="280" y2="537.5" stroke="#262626" stroke-width="1"/>
<line x1="275.5" y1="614.5" x2="280" y2="614.5" stroke="#262626" stroke-width="1"/>
<line x1="275.5" y1="692.5" x2="280" y2="692.5" stroke="#262626" stroke-width="1"/>
<line x1="275.5" y1="770.5" x2="280" y2="770.5" stroke="#262626" stroke-width="1"/>
<line x1="275.5" y1="847.5" x2="280" y2="847.5" stroke="#262626" stroke-width="1"/>
<text x="736.2" y="605.7" font-size="16.67" fill="#1c1c1c" font-weight="bold">dB/dT Alert</text>
<text x="736.2" y="760.9" font-size="16.67" fill="#0000ff" font-weight="bold">B Alert</text>
<line x1="328.5" y1="572.3" x2="328.5" y2="847.5" stroke="#00ffff" stroke-width="3.1"/>
<rect x="322.2" y="533" width="110.1" height="39.3" fill="#fff" stroke="#00ffff" stroke-width="1.04"/>
<text x="328.2" y="559.9" font-size="20.83" fill="#000">time now</text>
<rect x="868.5" y="537.5" width="112.7" height="310" fill="#e6e6e6"/>
<rect x="1227.3" y="537.5" width="93.7" height="310" fill="#e6e6e6"/>
<line x1="868.5" y1="692.5" x2="1321.5" y2="692.5" stroke="#000" stroke-width="1"/>
<line x1="868.5" y1="537" x2="868.5" y2="848" stroke="#262626" stroke-width="1"/>
<line x1="868" y1="847.5" x2="1322" y2="847.5" stroke="#262626" stroke-width="1"/>
<line x1="868.5" y1="847.5" x2="868.5" y2="843" stroke="#262626" stroke-width="1"/>
<text x="868.7" y="877" font-size="20.83" fill="#262626" text-anchor="middle">0</text>
<line x1="887.5" y1="847.5" x2="887.5" y2="843" stroke="#262626" stroke-width="1"/>
<line x1="906.5" y1="847.5" x2="906.5" y2="843" stroke="#262626" stroke-width="1"/>
<line x1="925.5" y1="847.5" x2="925.5" y2="843" stroke="#262626" stroke-width="1"/>
<text x="925.33" y="877" font-size="20.83" fill="#262626" text-anchor="middle">3</text>
<line x1="943.5" y1="847.5" x2="943.5" y2="843" stroke="#262626" stroke-width="1"/>
<line x1="962.5" y1="847.5" x2="962.5" y2="843" stroke="#262626" stroke-width="1"/>
<line x1="981.5" y1="847.5" x2="981.5" y2="843" stroke="#262626" stroke-width="1"/>
<text x="981.95" y="877" font-size="20.83" fill="#262626" text-anchor="middle">6</text>
<line x1="1000.5" y1="847.5" x2="1000.5" y2="843" stroke="#262626" stroke-width="1"/>
<line x1="1019.5" y1="847.5" x2="1019.5" y2="843" stroke="#262626" stroke-width="1"/>
<line x1="1038.5" y1="847.5" x2="1038.5" y2="843" stroke="#262626" stroke-width="1"/>
<text x="1038.58" y="877" font-size="20.83" fill="#262626" text-anchor="middle">9</text>
<line x1="1057.5" y1="847.5" x2="1057.5" y2="843" stroke="#262626" stroke-width="1"/>
<line x1="1076.5" y1="847.5" x2="1076.5" y2="843" stroke="#262626" stroke-width="1"/>
<line x1="1094.5" y1="847.5" x2="1094.5" y2="843" stroke="#262626" stroke-width="1"/>
<text x="1095.2" y="877" font-size="20.83" fill="#262626" text-anchor="middle">12</text>
<line x1="1113.5" y1="847.5" x2="1113.5" y2="843" stroke="#262626" stroke-width="1"/>
<line x1="1132.5" y1="847.5" x2="1132.5" y2="843" stroke="#262626" stroke-width="1"/>
<line x1="1151.5" y1="847.5" x2="1151.5" y2="843" stroke="#262626" stroke-width="1"/>
<text x="1151.83" y="877" font-size="20.83" fill="#262626" text-anchor="middle">15</text>
<line x1="1170.5" y1="847.5" x2="1170.5" y2="843" stroke="#262626" stroke-width="1"/>
<line x1="1189.5" y1="847.5" x2="1189.5" y2="843" stroke="#262626" stroke-width="1"/>
<line x1="1208.5" y1="847.5" x2="1208.5" y2="843" stroke="#262626" stroke-width="1"/>
<text x="1208.45" y="877" font-size="20.83" fill="#262626" text-anchor="middle">18</text>
<line x1="1227.5" y1="847.5" x2="1227.5" y2="843" stroke="#262626" stroke-width="1"/>
<line x1="1245.5" y1="847.5" x2="1245.5" y2="843" stroke="#262626" stroke-width="1"/>
<line x1="1264.5" y1="847.5" x2="1264.5" y2="843" stroke="#262626" stroke-width="1"/>
<text x="1265.08" y="877" font-size="20.83" fill="#262626" text-anchor="middle">21</text>
<line x1="1283.5" y1="847.5" x2="1283.5" y2="843" stroke="#262626" stroke-width="1"/>
<line x1="1302.5" y1="847.5" x2="1302.5" y2="843" stroke="#262626" stroke-width="1"/>
<line x1="1321.5" y1="847.5" x2="1321.5" y2="843" stroke="#262626" stroke-width="1"/>
<text x="1321.7" y="877" font-size="20.83" fill="#262626" text-anchor="middle">24</text>
<line x1="868.5" y1="537.5" x2="874" y2="537.5" stroke="#262626" stroke-width="1"/>
<line x1="868.5" y1="614.5" x2="874" y2="614.5" stroke="#262626" stroke-width="1"/>
<line x1="868.5" y1="692.5" x2="874" y2="692.5" stroke="#262626" stroke-width="1"/>
<line x1="868.5" y1="770.5" x2="874" y2="770.5" stroke="#262626" stroke-width="1"/>
<line x1="868.5" y1="847.5" x2="874" y2="847.5" stroke="#262626" stroke-width="1"/>
<text x="1330.1" y="605.7" font-size="16.67" fill="#1c1c1c" font-weight="bold">dB/dT Alert</text>
<text x="1330.1" y="760.9" font-size="16.67" fill="#0000ff" font-weight="bold">B Alert</text>
<line x1="922.5" y1="572.3" x2="922.5" y2="847.5" stroke="#00ffff" stroke-width="3.1"/>
<rect x="916.1" y="533" width="110.1" height="39.3" fill="#fff" stroke="#00ffff" stroke-width="1.04"/>
<text x="922.1" y="559.9" font-size="20.83" fill="#000">time now</text>
<rect x="1464.5" y="537.5" width="112.3" height="310" fill="#e6e6e6"/>
<rect x="1821.9" y="537.5" width="92.1" height="310" fill="#e6e6e6"/>
<line x1="1464.5" y1="692.5" x2="1914.5" y2="692.5" stroke="#000" stroke-width="1"/>
<line x1="1464.5" y1="537" x2="1464.5" y2="848" stroke="#262626" stroke-width="1"/>
<line x1="1464" y1="847.5" x2="1915" y2="847.5" stroke="#262626" stroke-width="1"/>
<line x1="1464.5" y1="847.5" x2="1464.5" y2="843" stroke="#262626" stroke-width="1"/>
<text x="1464.7" y="877" font-size="20.83" fill="#262626" text-anchor="middle">0</text>
<line x1="1483.5" y1="847.5" x2="1483.5" y2="843" stroke="#262626" stroke-width="1"/>
<line x1="1502.5" y1="847.5" x2="1502.5" y2="843" stroke="#262626" stroke-width="1"/>
<line x1="1521.5" y1="847.5" x2="1521.5" y2="843" stroke="#262626" stroke-width="1"/>
<text x="1520.95" y="877" font-size="20.83" fill="#262626" text-anchor="middle">3</text>
<line x1="1539.5" y1="847.5" x2="1539.5" y2="843" stroke="#262626" stroke-width="1"/>
<line x1="1558.5" y1="847.5" x2="1558.5" y2="843" stroke="#262626" stroke-width="1"/>
<line x1="1577.5" y1="847.5" x2="1577.5" y2="843" stroke="#262626" stroke-width="1"/>
<text x="1577.2" y="877" font-size="20.83" fill="#262626" text-anchor="middle">6</text>
<line x1="1596.5" y1="847.5" x2="1596.5" y2="843" stroke="#262626" stroke-width="1"/>
<line x1="1614.5" y1="847.5" x2="1614.5" y2="843" stroke="#262626" stroke-width="1"/>
<line x1="1633.5" y1="847.5" x2="1633.5" y2="843" stroke="#262626" stroke-width="1"/>
<text x="1633.45" y="877" font-size="20.83" fill="#262626" text-anchor="middle">9</text>
<line x1="1652.5" y1="847.5" x2="1652.5" y2="843" stroke="#262626" stroke-width="1"/>
<line x1="1671.5" y1="847.5" x2="1671.5" y2="843" stroke="#262626" stroke-width="1"/>
<line x1="1689.5" y1="847.5" x2="1689.5" y2="843" stroke="#262626" stroke-width="1"/>
<text x="1689.7" y="877" font-size="20.83" fill="#262626" text-anchor="middle">12</text>
<line x1="1708.5" y1="847.5" x2="1708.5" y2="843" stroke="#262626" stroke-width="1"/>
<line x1="1727.5" y1="847.5" x2="1727.5" y2="843" stroke="#262626" stroke-width="1"/>
<line x1="1746.5" y1="847.5" x2="1746.5" y2="843" stroke="#262626" stroke-width="1"/>
<text x="1745.95" y="877" font-size="20.83" fill="#262626" text-anchor="middle">15</text>
<line x1="1764.5" y1="847.5" x2="1764.5" y2="843" stroke="#262626" stroke-width="1"/>
<line x1="1783.5" y1="847.5" x2="1783.5" y2="843" stroke="#262626" stroke-width="1"/>
<line x1="1802.5" y1="847.5" x2="1802.5" y2="843" stroke="#262626" stroke-width="1"/>
<text x="1802.2" y="877" font-size="20.83" fill="#262626" text-anchor="middle">18</text>
<line x1="1821.5" y1="847.5" x2="1821.5" y2="843" stroke="#262626" stroke-width="1"/>
<line x1="1839.5" y1="847.5" x2="1839.5" y2="843" stroke="#262626" stroke-width="1"/>
<line x1="1858.5" y1="847.5" x2="1858.5" y2="843" stroke="#262626" stroke-width="1"/>
<text x="1858.45" y="877" font-size="20.83" fill="#262626" text-anchor="middle">21</text>
<line x1="1877.5" y1="847.5" x2="1877.5" y2="843" stroke="#262626" stroke-width="1"/>
<line x1="1896.5" y1="847.5" x2="1896.5" y2="843" stroke="#262626" stroke-width="1"/>
<line x1="1914.5" y1="847.5" x2="1914.5" y2="843" stroke="#262626" stroke-width="1"/>
<text x="1914.7" y="877" font-size="20.83" fill="#262626" text-anchor="middle">24</text>
<line x1="1464.5" y1="537.5" x2="1470" y2="537.5" stroke="#262626" stroke-width="1"/>
<line x1="1464.5" y1="614.5" x2="1470" y2="614.5" stroke="#262626" stroke-width="1"/>
<line x1="1464.5" y1="692.5" x2="1470" y2="692.5" stroke="#262626" stroke-width="1"/>
<line x1="1464.5" y1="770.5" x2="1470" y2="770.5" stroke="#262626" stroke-width="1"/>
<line x1="1464.5" y1="847.5" x2="1470" y2="847.5" stroke="#262626" stroke-width="1"/>
<line x1="1517.9" y1="572.3" x2="1517.9" y2="847.5" stroke="#00ffff" stroke-width="3.1"/>
<rect x="1511.6" y="533" width="110.9" height="39.3" fill="#fff" stroke="#00ffff" stroke-width="1.04"/>
<text x="1518.4" y="559.9" font-size="20.83" fill="#000">time now</text>
<rect x="268.1" y="881.7" width="159.7" height="40.3" fill="#00ff00"/>
<rect x="432.1" y="881.7" width="196.8" height="40.3" fill="#ffff00"/>
<rect x="628.9" y="881.7" width="166" height="40.3" fill="#ff0000"/>
<text x="275.3" y="909" font-size="20.83" fill="#000">minor activity</text>
<text x="439.3" y="909" font-size="20.83" fill="#000">moderate activity</text>
<text x="636.1" y="909" font-size="20.83" fill="#000">strong activity</text>
<text x="1259.2" y="909.5" font-size="20.83" fill="#000" textLength="179.6">Current Warning:</text>
<text x="1455.8" y="911.8" font-size="31.25" fill="#000">0.0/9</text>
<rect x="275.5" y="934.9" width="409.15" height="331.6" fill="#e6e6e6"/>
<rect x="1573.44" y="934.9" width="341.06" height="331.6" fill="#e6e6e6"/>
<line x1="275.5" y1="934.9" x2="275.5" y2="1267" stroke="#262626" stroke-width="1"/>
<line x1="275" y1="1266.5" x2="1915" y2="1266.5" stroke="#262626" stroke-width="1"/>
<line x1="275.5" y1="1266.5" x2="275.5" y2="1249.6" stroke="#262626" stroke-width="1"/>
<text x="275.1" y="1295.5" font-size="20.83" fill="#262626" text-anchor="middle">0</text>
<line x1="343.5" y1="1266.5" x2="343.5" y2="1249.6" stroke="#262626" stroke-width="1"/>
<text x="343.39" y="1295.5" font-size="20.83" fill="#262626" text-anchor="middle">1</text>
<line x1="412.5" y1="1266.5" x2="412.5" y2="1249.6" stroke="#262626" stroke-width="1"/>
<text x="411.68" y="1295.5" font-size="20.83" fill="#262626" text-anchor="middle">2</text>
<line x1="480.5" y1="1266.5" x2="480.5" y2="1249.6" stroke="#262626" stroke-width="1"/>
<text x="479.98" y="1295.5" font-size="20.83" fill="#262626" text-anchor="middle">3</text>
<line x1="548.5" y1="1266.5" x2="548.5" y2="1249.6" stroke="#262626" stroke-width="1"/>
<text x="548.27" y="1295.5" font-size="20.83" fill="#262626" text-anchor="middle">4</text>
<line x1="616.5" y1="1266.5" x2="616.5" y2="1249.6" stroke="#262626" stroke-width="1"/>
<text x="616.56" y="1295.5" font-size="20.83" fill="#262626" text-anchor="middle">5</text>
<line x1="685.5" y1="1266.5" x2="685.5" y2="1249.6" stroke="#262626" stroke-width="1"/>
<text x="684.85" y="1295.5" font-size="20.83" fill="#262626" text-anchor="middle">6</text>
<line x1="753.5" y1="1266.5" x2="753.5" y2="1249.6" stroke="#262626" stroke-width="1"/>
<text x="753.14" y="1295.5" font-size="20.83" fill="#262626" text-anchor="middle">7</text>
<line x1="821.5" y1="1266.5" x2="821.5" y2="1249.6" stroke="#262626" stroke-width="1"/>
<text x="821.43" y="1295.5" font-size="20.83" fill="#262626" text-anchor="middle">8</text>
<line x1="890.5" y1="1266.5" x2="890.5" y2="1249.6" stroke="#262626" stroke-width="1"/>
<text x="889.73" y="1295.5" font-size="20.83" fill="#262626" text-anchor="middle">9</text>
<line x1="958.5" y1="1266.5" x2="958.5" y2="1249.6" stroke="#262626" stroke-width="1"/>
<text x="958.02" y="1295.5" font-size="20.83" fill="#262626" text-anchor="middle">10</text>
<line x1="1026.5" y1="1266.5" x2="1026.5" y2="1249.6" stroke="#262626" stroke-width="1"/>
<text x="1026.31" y="1295.5" font-size="20.83" fill="#262626" text-anchor="middle">11</text>
<line x1="1094.5" y1="1266.5" x2="1094.5" y2="1249.6" stroke="#262626" stroke-width="1"/>
<text x="1094.6" y="1295.5" font-size="20.83" fill="#262626" text-anchor="middle">12</text>
<line x1="1163.5" y1="1266.5" x2="1163.5" y2="1249.6" stroke="#262626" stroke-width="1"/>
<text x="1162.89" y="1295.5" font-size="20.83" fill="#262626" text-anchor="middle">13</text>
<line x1="1231.5" y1="1266.5" x2="1231.5" y2="1249.6" stroke="#262626" stroke-width="1"/>
<text x="1231.18" y="1295.5" font-size="20.83" fill="#262626" text-anchor="middle">14</text>
<line x1="1299.5" y1="1266.5" x2="1299.5" y2="1249.6" stroke="#262626" stroke-width="1"/>
<text x="1299.47" y="1295.5" font-size="20.83" fill="#262626" text-anchor="middle">15</text>
<line x1="1368.5" y1="1266.5" x2="1368.5" y2="1249.6" stroke="#262626" stroke-width="1"/>
<text x="1367.77" y="1295.5" font-size="20.83" fill="#262626" text-anchor="middle">16</text>
<line x1="1436.5" y1="1266.5" x2="1436.5" y2="1249.6" stroke="#262626" stroke-width="1"/>
<text x="1436.06" y="1295.5" font-size="20.83" fill="#262626" text-anchor="middle">17</text>
<line x1="1504.5" y1="1266.5" x2="1504.5" y2="1249.6" stroke="#262626" stroke-width="1"/>
<text x="1504.35" y="1295.5" font-size="20.83" fill="#262626" text-anchor="middle">18</text>
<line x1="1573.5" y1="1266.5" x2="1573.5" y2="1249.6" stroke="#262626" stroke-width="1"/>
<text x="1572.64" y="1295.5" font-size="20.83" fill="#262626" text-anchor="middle">19</text>
<line x1="1641.5" y1="1266.5" x2="1641.5" y2="1249.6" stroke="#262626" stroke-width="1"/>
<text x="1640.93" y="1295.5" font-size="20.83" fill="#262626" text-anchor="middle">20</text>
<line x1="1709.5" y1="1266.5" x2="1709.5" y2="1249.6" stroke="#262626" stroke-width="1"/>
<text x="1709.22" y="1295.5" font-size="20.83" fill="#262626" text-anchor="middle">21</text>
<line x1="1777.5" y1="1266.5" x2="1777.5" y2="1249.6" stroke="#262626" stroke-width="1"/>
<text x="1777.52" y="1295.5" font-size="20.83" fill="#262626" text-anchor="middle">22</text>
<line x1="1846.5" y1="1266.5" x2="1846.5" y2="1249.6" stroke="#262626" stroke-width="1"/>
<text x="1845.81" y="1295.5" font-size="20.83" fill="#262626" text-anchor="middle">23</text>
<line x1="1914.5" y1="1266.5" x2="1914.5" y2="1249.6" stroke="#262626" stroke-width="1"/>
<line x1="275.5" y1="1266.5" x2="292.4" y2="1266.5" stroke="#262626" stroke-width="1"/>
<text x="265" y="1274.2" font-size="20.83" fill="#262626" text-anchor="end">0</text>
<line x1="275.5" y1="1192.5" x2="292.4" y2="1192.5" stroke="#262626" stroke-width="1"/>
<text x="265" y="1200.51" font-size="20.83" fill="#262626" text-anchor="end">2</text>
<line x1="275.5" y1="1119.5" x2="292.4" y2="1119.5" stroke="#262626" stroke-width="1"/>
<text x="265" y="1126.82" font-size="20.83" fill="#262626" text-anchor="end">4</text>
<line x1="275.5" y1="1045.5" x2="292.4" y2="1045.5" stroke="#262626" stroke-width="1"/>
<text x="265" y="1053.13" font-size="20.83" fill="#262626" text-anchor="end">6</text>
<line x1="275.5" y1="971.5" x2="292.4" y2="971.5" stroke="#262626" stroke-width="1"/>
<text x="265" y="979.44" font-size="20.83" fill="#262626" text-anchor="end">8</text>
<text x="239.9" y="1102.2" font-size="22.92" fill="#262626" text-anchor="middle" transform="rotate(-90 239.9 1102.2)">Warning Values</text>
<text x="1095" y="1327.1" font-size="22.92" fill="#262626" text-anchor="middle" textLength="147.45">Time UTC / h</text>
<line x1="468.6" y1="973.1" x2="468.6" y2="1266.5" stroke="#00ffff" stroke-width="3.1"/>
<rect x="462.5" y="933.8" width="110.1" height="39.3" fill="#fff" stroke="#00ffff" stroke-width="1.04"/>
<text x="469.3" y="960.7" font-size="20.83" fill="#000">time now</text>
<text x="1098.5" y="1359" font-size="20.83" fill="#000" text-anchor="middle">Last updated: Mon 24 Nov 2025 15:50:37 NZDT</text>
</svg></body></html>
